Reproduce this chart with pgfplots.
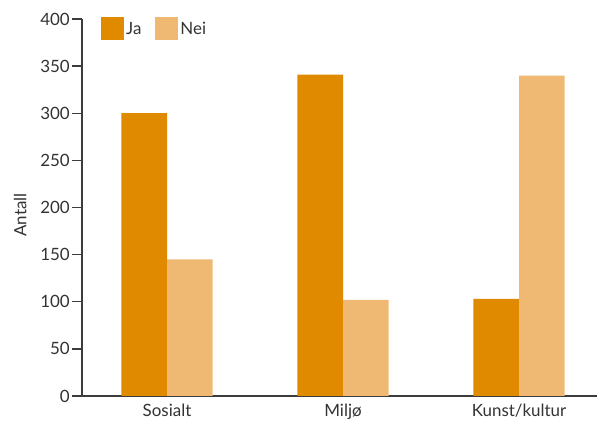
\documentclass[border=0pt]{standalone}
\usepackage{fontspec}
\setmainfont{Lato}
\usepackage{pgfplots}
\pgfplotsset{compat=1.18}
\definecolor{ja}{RGB}{224,138,0}
\definecolor{nei}{RGB}{239,185,116}
\definecolor{txt}{RGB}{51,51,51}
\definecolor{axl}{RGB}{60,60,60}
\begin{document}
\begin{tikzpicture}
\useasboundingbox (0,0) rectangle (603bp,424bp);
\begin{axis}[
  at={(82bp,28bp)}, anchor=south west,
  scale only axis,
  width=515bp, height=377bp,
  xmin=-0.483, xmax=2.443,
  ymin=0, ymax=400,
  ybar=0pt, bar width=0.259,
  axis x line*=bottom, axis y line*=left,
  axis line style={axl, line width=1.3bp},
  x axis line style={-}, y axis line style={-},
  xtick={0,1,2},
  xticklabels={Sosialt,Miljø,Kunst/kultur},
  ytick={0,50,...,400},
  major x tick style={draw=none},
  major y tick style={axl, line width=1.3bp},
  major tick length=10bp,
  tick align=outside,
  every tick label/.append style={font=\fontsize{17}{20}\selectfont, text=txt},
  /pgf/number format/assume math mode=true,
  yticklabel style={inner sep=0pt, xshift=-2bp},
  xticklabel style={inner sep=0pt, anchor=base, yshift=-11bp},
  ylabel={Antall},
  ylabel style={font=\fontsize{17}{20}\selectfont, text=txt, at={(axis description cs:-0.120,0.48)}, anchor=center, rotate=0},
  legend style={draw=none, fill=none, at={(axis description cs:0.037,1.005)}, anchor=north west,
    legend columns=2, font=\fontsize{17}{20}\selectfont, text=txt,
    inner xsep=0pt, inner ysep=0pt,
    /tikz/every even column/.append style={column sep=12bp}},
]
\addplot[fill=ja, draw=none, legend image code/.code={\fill[ja] (0bp,-11.5bp) rectangle (23bp,11.5bp);}] coordinates {(0,300) (1,341) (2,103)};
\addplot[fill=nei, draw=none, legend image code/.code={\fill[nei] (0bp,-11.5bp) rectangle (23bp,11.5bp);}] coordinates {(0,145) (1,102) (2,340)};
\legend{Ja,Nei}
\end{axis}
\end{tikzpicture}
\end{document}
